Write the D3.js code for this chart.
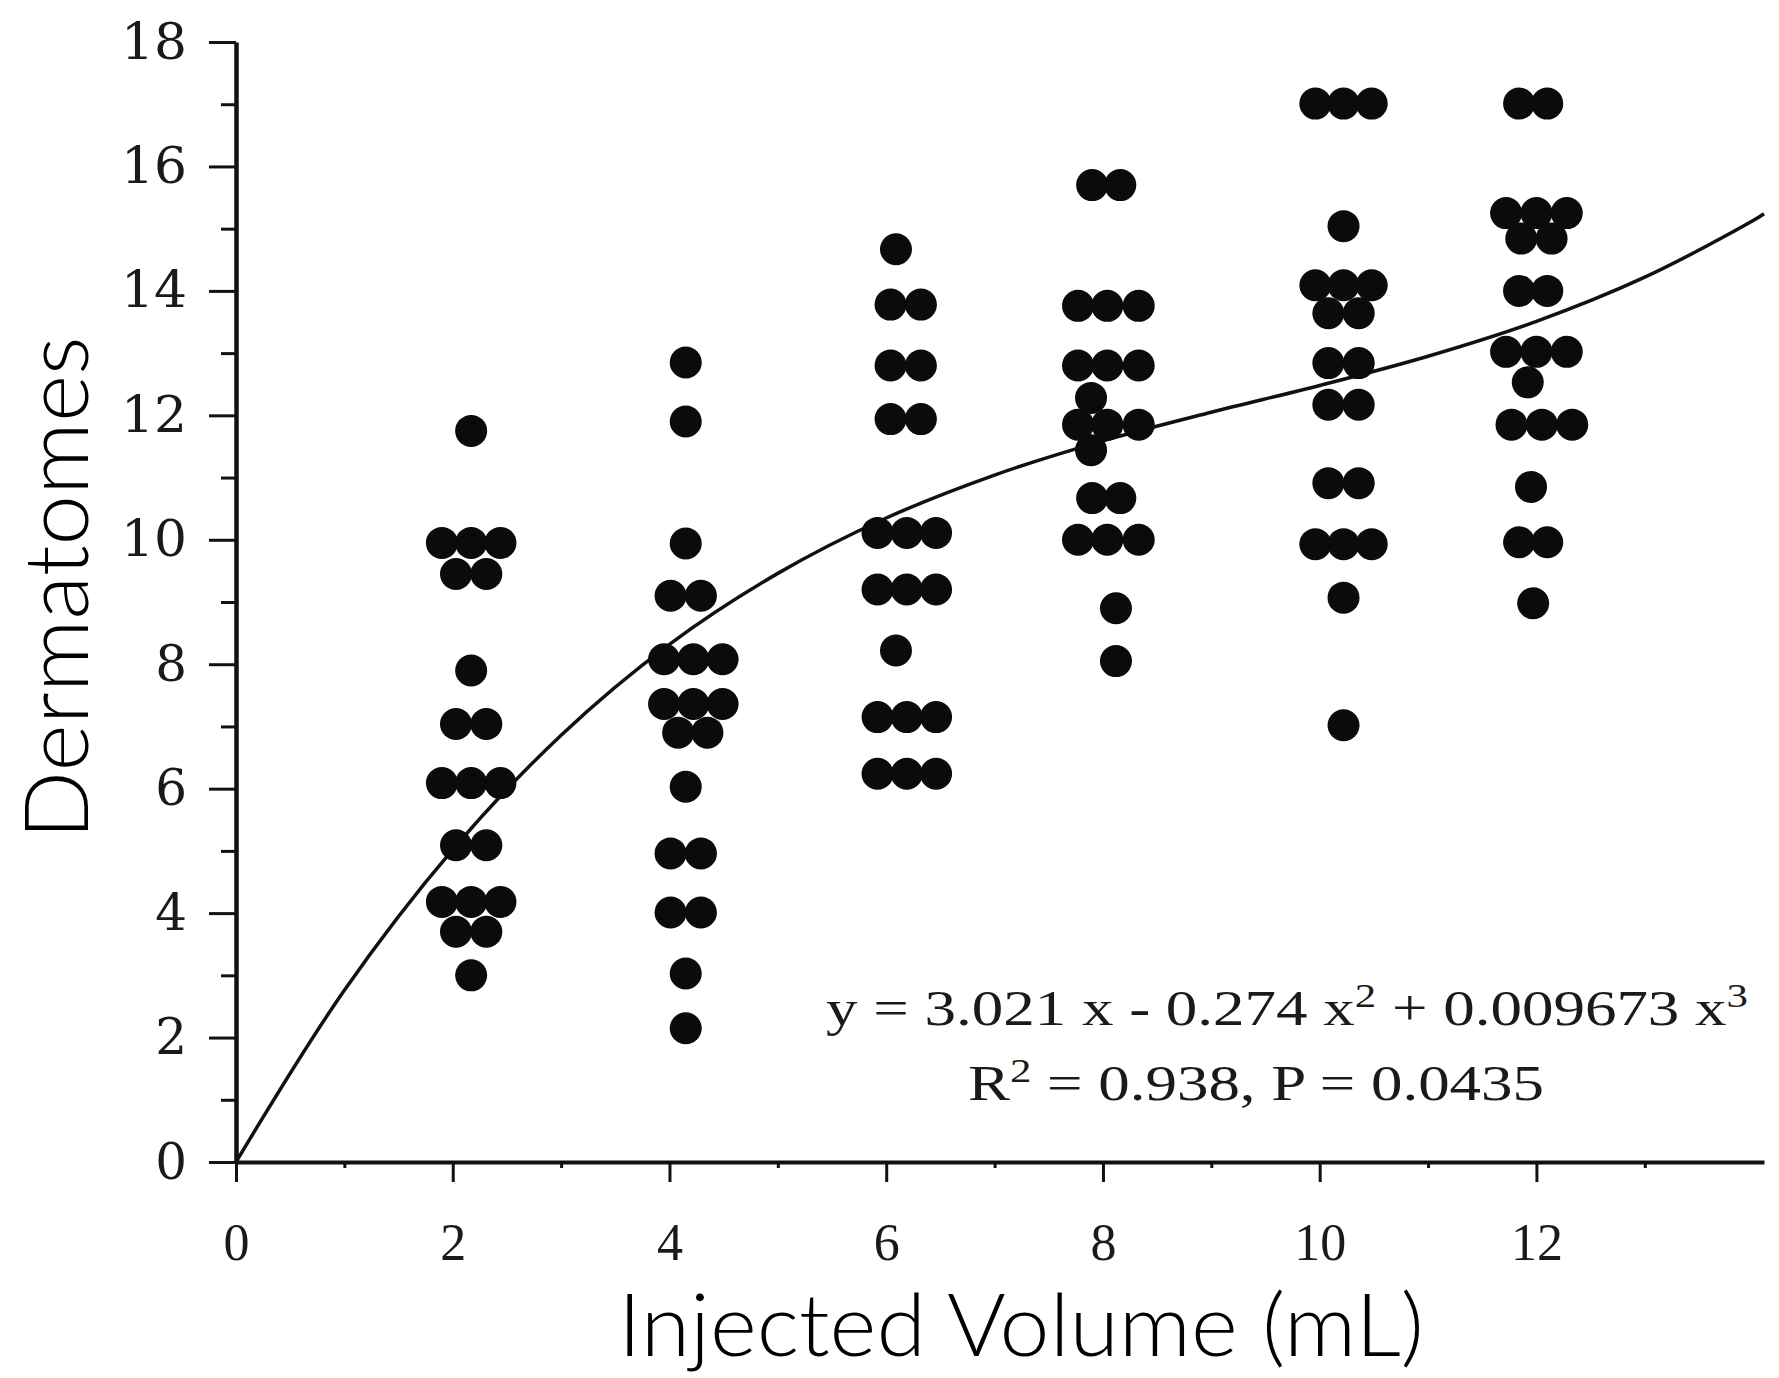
<!DOCTYPE html>
<html>
<head>
<meta charset="utf-8">
<script src="https://cdn.jsdelivr.net/npm/d3@7"></script>
<style>
  body { margin: 0; background: #fff; }
  svg { display: block; }
</style>
</head>
<body>
<svg id="chart"></svg>
<script>
// tick values
var yMajor = [0, 2, 4, 6, 8, 10, 12, 14, 16, 18]
var yMinor = [1, 3, 5, 7, 9, 11, 13, 15, 17]
var xMajor = [0, 2, 4, 6, 8, 10, 12]
var xMinor = [1, 3, 5, 7, 9, 11, 13]

// dots per injected volume, [x, dermatomes] (x spread as in the figure)
var vol2 = [[2.17,11.75],[1.90,9.95],[2.17,9.95],[2.44,9.95],[2.03,9.45],[2.31,9.45],
            [2.17,7.9],[2.03,7.04],[2.31,7.04],[1.90,6.09],[2.17,6.09],[2.44,6.09],
            [2.03,5.09],[2.31,5.09],[1.90,4.18],[2.17,4.18],[2.44,4.18],[2.03,3.7],[2.31,3.7],[2.17,3.0]]
var vol4 = [[4.15,12.85],[4.15,11.9],[4.15,9.94],[4.01,9.1],[4.29,9.1],
            [3.95,8.08],[4.22,8.08],[4.49,8.08],[3.95,7.36],[4.22,7.36],[4.49,7.36],
            [4.08,6.9],[4.35,6.9],[4.15,6.03],[4.01,4.96],[4.29,4.96],
            [4.01,4.01],[4.29,4.01],[4.15,3.03],[4.15,2.15]]
var vol6 = [[6.09,14.67],[6.04,13.78],[6.32,13.78],[6.04,12.8],[6.32,12.8],[6.04,11.94],[6.32,11.94],
            [5.92,10.11],[6.19,10.11],[6.46,10.11],[5.92,9.2],[6.19,9.2],[6.46,9.2],
            [6.09,8.22],[5.92,7.15],[6.19,7.15],[6.46,7.15],[5.92,6.24],[6.19,6.24],[6.46,6.24]]
var vol8 = [[7.90,15.7],[8.16,15.7],[7.77,13.76],[8.04,13.76],[8.33,13.76],
            [7.77,12.8],[8.04,12.8],[8.33,12.8],[7.89,12.28],
            [7.77,11.85],[8.04,11.85],[8.33,11.85],[7.89,11.44],
            [7.90,10.67],[8.16,10.67],[7.77,10.0],[8.04,10.0],[8.33,10.0],[8.12,8.9],[8.12,8.05]]
var vol10 = [[9.96,17.01],[10.22,17.01],[10.48,17.01],[10.22,15.04],
             [9.96,14.09],[10.22,14.09],[10.48,14.09],[10.08,13.64],[10.36,13.64],
             [10.08,12.84],[10.36,12.84],[10.08,12.17],[10.36,12.17],[10.08,10.91],[10.36,10.91],
             [9.96,9.93],[10.22,9.93],[10.48,9.93],[10.22,9.07],[10.22,7.02]]
var vol12 = [[11.84,17.01],[12.10,17.01],[11.72,15.25],[12.0,15.25],[12.28,15.25],
             [11.86,14.84],[12.14,14.84],[11.84,14.0],[12.10,14.0],
             [11.72,13.02],[12.0,13.02],[12.28,13.02],[11.92,12.53],
             [11.77,11.85],[12.05,11.85],[12.33,11.85],[11.95,10.85],
             [11.84,9.96],[12.10,9.96],[11.97,8.98]]

// fitted curve, read at whole mL
var curveX = [0, 1, 2, 3, 4, 5, 6, 7, 8, 9, 10, 11, 12, 13, 14, 14.1]
var curveY = [0, 2.76, 5.02, 6.86, 8.32, 9.46, 10.35, 11.04, 11.59, 12.05, 12.48, 12.95, 13.51, 14.22, 15.13, 15.24]

var eqLine1 = ["y = 3.021 x - 0.274 x", "2", " + 0.009673 x", "3"]
var eqLine2 = ["R", "2", " = 0.938, P = 0.0435"]

var W = 1779, H = 1378
var svg = d3.select("#chart").attr("width", W).attr("height", H)

var x = d3.scaleLinear().domain([0, 14.1]).range([236, 1764])
var y = d3.scaleLinear().domain([0, 18]).range([1162, 42])

var ink = "#111"
var titleFont = "Lato, Roboto, 'Liberation Sans', sans-serif"

// minor ticks first
svg.append("g")
   .attr("transform", "translate(" + x(0) + ",0)")
   .call(d3.axisLeft(y).tickValues(yMinor).tickSize(15).tickFormat(""))
   .call(g => g.select(".domain").remove())
   .call(g => g.selectAll("line").attr("stroke", ink).attr("stroke-width", 3))

svg.append("g")
   .attr("transform", "translate(0," + y(0) + ")")
   .call(d3.axisBottom(x).tickValues(xMinor).tickSize(6).tickFormat(""))
   .call(g => g.select(".domain").remove())
   .call(g => g.selectAll("line").attr("stroke", ink).attr("stroke-width", 3))

// y axis
var yAxis = svg.append("g")
   .attr("transform", "translate(" + x(0) + ",0)")
   .call(d3.axisLeft(y).tickValues(yMajor).tickSize(27).tickSizeOuter(0).tickPadding(22))
yAxis.select(".domain").attr("stroke", ink).attr("stroke-width", 4.5)
yAxis.selectAll("line").attr("stroke", ink).attr("stroke-width", 3)
yAxis.selectAll("text")
     .attr("fill", "#1a1a1a")
     .style("font-family", "'DejaVu Serif', serif")
     .style("font-size", "50px")
     .filter(d => d >= 10)
     .attr("textLength", 66)
     .attr("lengthAdjust", "spacingAndGlyphs")

// x axis
var xAxis = svg.append("g")
   .attr("transform", "translate(0," + y(0) + ")")
   .call(d3.axisBottom(x).tickValues(xMajor).tickSize(20).tickSizeOuter(0))
xAxis.select(".domain").attr("stroke", ink).attr("stroke-width", 4)
xAxis.selectAll("line").attr("stroke", ink).attr("stroke-width", 3)
xAxis.selectAll("text")
     .attr("y", 98)
     .attr("dy", 0)
     .attr("fill", "#1a1a1a")
     .style("font-family", "'Liberation Serif', 'Times New Roman', serif")
     .style("font-size", "52px")

// fitted curve
var line = d3.line()
    .x((d, i) => x(curveX[i]))
    .y(d => y(d))
    .curve(d3.curveCatmullRom)
svg.append("path")
   .datum(curveY)
   .attr("d", line)
   .attr("fill", "none")
   .attr("stroke", ink)
   .attr("stroke-width", 3.5)

// dots
var allDots = [].concat(vol2, vol4, vol6, vol8, vol10, vol12)
svg.append("g")
   .selectAll("circle")
   .data(allDots)
   .enter()
   .append("circle")
   .attr("cx", d => x(d[0]))
   .attr("cy", d => y(d[1]))
   .attr("r", 16)
   .attr("fill", "#0b0b0b")

// equation text
function eqText(parts, xPos, yPos, len) {
    var t = svg.append("text")
               .attr("x", xPos)
               .attr("y", yPos)
               .attr("fill", "#1a1a1a")
               .style("font-family", "'Liberation Serif', 'Times New Roman', serif")
               .style("font-size", "50px")
    parts.forEach((p, i) => {
        var isSup = (p === "2" || p === "3")
        t.append("tspan")
         .attr("dy", isSup ? -18 : (i > 0 ? 18 : 0))
         .style("font-size", isSup ? "34px" : "50px")
         .text(p)
    })
    t.attr("textLength", len).attr("lengthAdjust", "spacingAndGlyphs")
    return t
}
eqText(eqLine1, 826, 1025, 922)
eqText(eqLine2, 968, 1100, 576)

// axis titles
svg.append("text")
   .attr("x", 1021)
   .attr("y", 1356)
   .attr("text-anchor", "middle")
   .attr("textLength", 806)
   .attr("lengthAdjust", "spacingAndGlyphs")
   .style("font-family", titleFont)
   .style("font-weight", 300)
   .style("font-size", "86px")
   .text("Injected Volume (mL)")

svg.append("text")
   .attr("transform", "translate(88,588) rotate(-90)")
   .attr("text-anchor", "middle")
   .attr("textLength", 503)
   .attr("lengthAdjust", "spacingAndGlyphs")
   .style("font-family", titleFont)
   .style("font-weight", 300)
   .style("font-size", "88px")
   .text("Dermatomes")
</script>
</body>
</html>
